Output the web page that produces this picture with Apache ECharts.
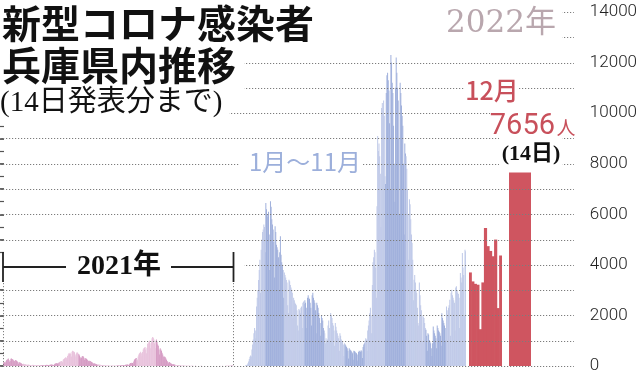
<!DOCTYPE html>
<html><head><meta charset="utf-8">
<script src="https://cdn.jsdelivr.net/npm/echarts@6/dist/echarts.min.js"></script>
<style>html,body{margin:0;padding:0;background:#fff}#c{width:640px;height:375px}</style>
</head><body><div id="c"></div>
<script>
// ---- data: daily new cases, Hyogo ----
const m2021_01 = [120,160,150,110,180,230,250,270,300,240,170,200,290,300,280,270,230,150,200,240,230,210,190,160,90,140,150,130,110,100,80];
const m2021_02 = [50,90,80,70,65,60,45,30,55,50,45,40,35,30,20,40,45,40,35,30,25,15,30,35,40,30,28,22];
const m2021_03 = [15,30,25,30,28,26,22,20,35,40,45,40,35,30,25,45,50,55,60,50,40,35,70,90,100,110,120,100,60,130,150];
const m2021_04 = [170,180,200,190,150,250,280,300,320,350,330,270,400,450,500,480,520,470,380,560,600,580,560,540,450,380,500,540,520,480];
const m2021_05 = [460,420,350,300,330,380,400,380,330,250,300,320,280,260,240,200,150,210,200,180,160,150,120,90,110,100,90,80,70,60,40];
const m2021_06 = [60,55,50,45,40,35,25,35,30,28,25,22,20,15,20,22,18,15,14,12,8,15,18,16,14,15,12,8,14,16];
const m2021_07 = [15,18,20,16,10,20,25,30,28,30,25,18,35,45,50,55,60,50,40,70,100,120,110,130,120,90,180,250,280,300,320];
const m2021_08 = [280,230,380,450,500,520,560,500,380,550,650,700,720,750,650,500,720,880,900,950,1000,900,700,950,1100,1150,1120,1050,900,700,1000];
const m2021_09 = [1050,950,850,800,650,450,700,650,600,520,450,380,250,380,350,300,250,200,170,110,150,160,120,100,90,75,45,70,65,50];
const m2021_10 = [45,40,30,20,35,35,30,28,25,18,12,20,22,18,15,14,10,6,12,12,10,8,9,6,3,8,7,6,5,4,3];
const m2021_11 = [2,5,4,3,4,3,2,1,4,3,5,3,2,2,1,3,4,3,2,2,1,0,2,3,4,2,3,1,2,3];
const m2021_12 = [2,3,2,4,1,2,3,4,3,2,5,3,1,4,5,4,3,2,1,5,6,8,10,12,9,7,14,18,25,30,28];

const m2022_01 = [20,25,30,60,110,180,280,370,420,380,650,850,1050,1300,1500,1400,1100,2350,2700,3000,3400,3800,4200,2900,4600,5000,5300,5400,5600,5500,4500];
const m2022_02 = [6450,6200,6000,5900,6100,5200,3800,6520,6300,5800,5600,5400,4900,3500,5530,5300,4800,4700,4600,4300,3000,4500,5130,4400,4100,4000,3800,2700];
const m2022_03 = [3700,3600,3500,3400,3300,2400,2100,3410,3350,3200,3100,3020,2900,1900,2700,2600,2500,2450,2400,2200,1600,1400,2250,2200,2090,2300,2350,1500,2500,2550,2450];
const m2022_04 = [2600,2500,2300,1500,2700,2800,2700,2650,2500,2300,1600,2800,2900,2700,2600,2500,2200,1300,2500,2400,2300,2100,1900,1700,1200,2000,1900,1800,1500,1400];
const m2022_05 = [1300,900,1100,1000,1050,1600,1800,1500,1000,2100,2000,1900,1700,1600,1400,800,1700,1550,1400,1300,1200,1100,600,1300,1200,1050,1000,950,850,400,900];
const m2022_06 = [850,800,750,700,600,300,700,650,620,600,550,500,250,600,580,560,520,500,450,220,550,600,580,560,620,580,320,750,850,900];
const m2022_07 = [1000,1100,1050,600,1400,1600,1800,2090,2300,2000,1300,3200,4100,4300,4600,4500,3900,2700,6320,9100,8500,8800,8300,7600,5500,10200,10400,10000,10500,9900,7500];
const m2022_08 = [7200,10800,11500,11600,11300,10900,9600,7000,12300,12000,11200,10800,9500,8000,6500,11000,12200,11600,11000,10500,9000,6000,11200,10800,10300,9900,9500,8000,5200,8800,8400];
const m2022_09 = [8300,7800,7000,6000,4200,6590,6400,5800,5200,4870,4200,2600,3410,3600,3300,3020,2900,2300,1700,1600,3300,2800,2400,2200,2000,1000,1960,1900,1700,1500];
const m2022_10 = [1430,1200,600,1300,1250,1030,950,900,700,400,900,1560,1400,1300,1200,1100,700,1600,1500,1400,1350,1300,1200,800,2090,1900,1800,1700,1600,1500,1000];
const m2022_11 = [2350,2200,2000,2300,2400,2620,1200,2900,3020,2800,2700,2600,2500,1400,3100,3150,3000,2900,2850,2700,1500,3680,3500,3300,4470,3900,3600,2000,4600,4540];
const m2022_12a = [3700,3345,3250,3215,1455,3305,5460,4740,4550,4340,5000,2290,4370]; // Dec 1-13
const m2022_12b = [7656]; // Dec 14

const yTickLabels = [0,2000,4000,6000,8000,10000,12000,14000];
const gridValues = [0,1000,2000,3000,4000,5000,6000,7000,8000,9000,10000,11000,12000,13000,14000];

const titleLine1 = '新型コロナ感染者';
const titleLine2 = '兵庫県内推移';
const subtitle = '(14日発表分まで)';
const label2022 = '2022年';
const label2021 = '2021年';
const labelJanNov = '1月～11月';
const labelDec = '12月';
const labelPeakNum = '7656';
const labelPeakUnit = '人';
const labelPeakDay = '(14日)';

// ---- styling ----
const pinkDark = '#d69cc4', pinkLight = '#e8c2dc';
const blueLight = '#bfc9e8', blueDark = '#a0b0dc';
const red = '#cf5560';
const TOP = 12, BOTTOM = 9;

function build(months, cFirst, cSecond, year) {
  const data = [], cats = [];
  months.forEach((arr, i) => {
    const c = i % 2 === 0 ? cFirst : cSecond;
    arr.forEach((v, d) => {
      data.push({ value: v, itemStyle: { color: c } });
      cats.push(year + '-' + (i + 1) + '-' + (d + 1));
    });
  });
  return { data, cats };
}
const s2021 = build([m2021_01,m2021_02,m2021_03,m2021_04,m2021_05,m2021_06,m2021_07,m2021_08,m2021_09,m2021_10,m2021_11,m2021_12], pinkDark, pinkLight, 2021);
const s2022 = build([m2022_01,m2022_02,m2022_03,m2022_04,m2022_05,m2022_06,m2022_07,m2022_08,m2022_09,m2022_10,m2022_11], blueLight, blueDark, 2022);
const decCats = m2022_12a.map((v, i) => '12-' + (i + 1));

const grids = [
  { left: 0, right: 62, top: TOP, bottom: BOTTOM },
  { left: 3, width: 230, top: TOP, bottom: BOTTOM },
  { left: 245, width: 221, top: TOP, bottom: BOTTOM },
  { left: 469, width: 33, top: TOP, bottom: BOTTOM },
  { left: 509, width: 22, top: TOP, bottom: BOTTOM }
];
const hiddenY = i => ({ gridIndex: i, type: 'value', min: 0, max: 14000, show: false });
const hiddenX = (i, cats) => ({ gridIndex: i, type: 'category', data: cats, show: false, boundaryGap: true });

const mask = (x, y, w, h) => ({ type: 'rect', z: 50, shape: { x, y, width: w, height: h }, style: { fill: '#fff' } });
const txt = (x, y, text, font, fill, align) => ({
  type: 'text', z: 60, x, y,
  style: { text, font, fill, align: align || 'center', textAlign: align || 'center', verticalAlign: 'middle', textVerticalAlign: 'middle' }
});
const ln = (x1, y1, x2, y2, stroke, w, dash, z) => ({
  type: 'line', z: z || 60, shape: { x1, y1, x2, y2 }, style: { stroke, lineWidth: w, lineDash: dash || null }
});
const serif = '"Liberation Serif","Noto Sans CJK JP",serif';
const cjk = '"Noto Sans CJK JP",sans-serif';

const chart = echarts.init(document.getElementById('c'));
chart.setOption({
  animation: false,
  grid: grids,
  xAxis: [
    { gridIndex: 0, type: 'value', min: 0, max: 1, show: false },
    hiddenX(1, s2021.cats), hiddenX(2, s2022.cats), hiddenX(3, decCats), hiddenX(4, ['12-14'])
  ],
  yAxis: [
    {
      gridIndex: 0, type: 'value', min: 0, max: 14000, interval: 1000, position: 'right', offset: 6,
      axisLine: { show: false },
      axisTick: { show: true, length: 4, lineStyle: { color: '#333', width: 1.5 } },
      minorTick: { show: true, splitNumber: 2, length: 4, lineStyle: { color: '#555', width: 1.2 } },
      axisLabel: {
        margin: 8, color: '#222', fontFamily: 'Roboto', fontWeight: 300, fontSize: 17,
        formatter: v => yTickLabels.indexOf(v) >= 0 ? String(v) : ''
      },
      splitLine: { show: false }
    },
    hiddenY(1), hiddenY(2), hiddenY(3), hiddenY(4)
  ],
  series: [
    { type: 'bar', xAxisIndex: 1, yAxisIndex: 1, data: s2021.data, barWidth: '130%' },
    { type: 'bar', xAxisIndex: 2, yAxisIndex: 2, data: s2022.data, barWidth: '130%' },
    { type: 'bar', xAxisIndex: 3, yAxisIndex: 3, data: m2022_12a, barWidth: '125%', itemStyle: { color: red } },
    { type: 'bar', xAxisIndex: 4, yAxisIndex: 4, data: m2022_12b, barWidth: '100%', itemStyle: { color: red } }
  ]
});

// dotted grid lines placed through the value axis scale
const xLeft = chart.convertToPixel({ xAxisIndex: 0 }, 0);
const xRight = chart.convertToPixel({ xAxisIndex: 0 }, 1);
const gridLines = gridValues.map(v => {
  const y = Math.round(chart.convertToPixel({ yAxisIndex: 0 }, v)) + 0.5;
  return ln(xLeft, y, xRight - 2, y, '#7c7c7c', 1, [1.2, 1.8], 45);
});

chart.setOption({
  graphic: gridLines.concat([
    mask(0, 0, 562, 46), mask(0, 46, 244, 46), mask(0, 92, 229, 26),
    mask(240, 150, 122, 26), mask(465, 76, 53, 28), mask(490, 108, 88, 30), mask(499, 138, 63, 30),
    mask(0, 255, 244, 25),
    txt(2, 23, titleLine1, 'bold 39px ' + cjk, '#111', 'left'),
    txt(2, 65, titleLine2, 'bold 39px ' + cjk, '#111', 'left'),
    txt(0, 103, subtitle, '29px ' + serif, '#111', 'left'),
    txt(501, 24, label2022, '31px "DejaVu Serif","Noto Sans CJK JP",serif', '#b9a7ae'),
    txt(305, 162, labelJanNov, '24px ' + cjk, '#9cafdb'),
    txt(492, 90, labelDec, '500 25px ' + cjk, '#c8505b'),
    txt(555, 127, labelPeakNum, '29px Roboto', '#c8505b', 'right'),
    txt(566, 128, labelPeakUnit, '19px ' + cjk, '#c8505b'),
    txt(531, 154, labelPeakDay, 'bold 22px ' + serif, '#111'),
    txt(119, 267, label2021, 'bold 28px ' + serif, '#111'),
    ln(3, 267, 66, 267, '#222', 1.8), ln(171, 267, 233.5, 267, '#222', 1.8),
    ln(3, 252, 3, 282, '#222', 1.8), ln(233.5, 252, 233.5, 282, '#222', 1.8),
    ln(3.5, 283, 3.5, 366, '#808080', 1, [1.2, 1.8]), ln(233.5, 283, 233.5, 366, '#808080', 1, [1.2, 1.8])
  ])
});
</script></body></html>
